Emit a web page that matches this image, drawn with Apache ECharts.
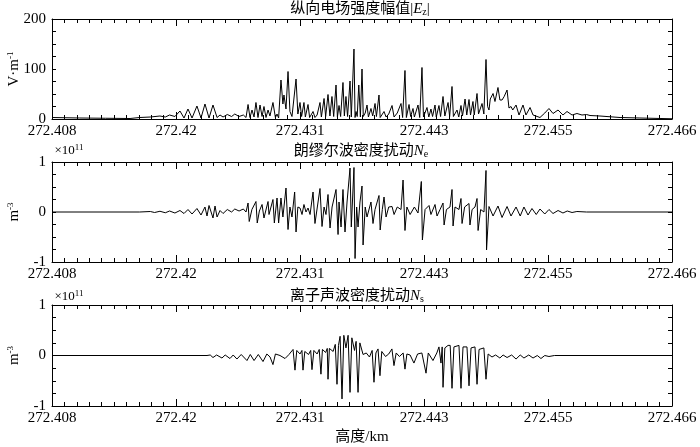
<!DOCTYPE html>
<html>
<head>
<meta charset="utf-8">
<script src="https://cdn.jsdelivr.net/npm/echarts@6/dist/echarts.min.js"></script>
<style>
  html, body { margin: 0; padding: 0; background: #fff; }
  #fieldChart { width: 700px; height: 447px; }
</style>
</head>
<body>
<div id="fieldChart"></div>
<script>
// heights are metres above 272.408 km, labels shown in km
const altitudeTicks = ['272.408', '272.42', '272.431', '272.443', '272.455', '272.466']
const tickStep = 11.6
const heightSpan = 58

// |Ez|, V/m
const ezPoints = [
  [0, 3], [2.6, 2], [5, 1.5], [7.3, 1], [8.2, 3], [9.2, 4], [10.1, 6], [10.6, 4], [11.0, 8], [11.5, 5],
  [11.97, 16], [12.35, 2], [12.72, 20], [13.1, 2], [13.56, 26], [13.94, 2], [14.31, 30], [14.69, 2],
  [15.06, 28], [15.44, 3], [15.72, 8], [16.0, 4], [16.4, 9], [16.8, 5], [17.1, 10], [17.5, 5], [17.9, 8],
  [18.15, 3], [18.34, 29], [18.52, 3], [18.71, 18], [18.9, 4], [19.08, 33], [19.27, 3], [19.46, 28],
  [19.65, 5], [19.83, 25], [20.02, 3], [20.21, 18], [20.39, 6], [20.67, 33], [20.9, 3], [21.05, 10],
  [21.2, 2], [21.42, 78], [21.6, 30], [21.7, 48], [21.89, 20], [22.08, 95], [22.26, 15], [22.45, 5],
  [22.83, 80], [23.0, 10], [23.2, 33], [23.35, 5], [23.57, 33], [23.7, 4], [23.95, 29], [24.1, 3],
  [24.42, 15], [24.6, 3], [24.8, 8], [25.07, 33], [25.2, 4], [25.45, 41], [25.6, 5], [25.82, 49],
  [26.0, 6], [26.19, 45], [26.35, 5], [26.57, 68], [26.7, 4], [26.85, 27], [27.0, 5], [27.22, 73],
  [27.35, 6], [27.5, 45], [27.65, 5], [27.88, 76], [28.0, 4], [28.25, 140], [28.35, 3], [28.44, 15],
  [28.55, 5], [28.7, 68], [28.85, 4], [29.0, 100], [29.12, 5], [29.3, 12], [29.47, 28], [29.6, 4],
  [29.84, 21], [30.0, 6], [30.22, 31], [30.35, 5], [30.59, 48], [30.7, 3], [31.06, 15], [31.25, 4],
  [31.5, 10], [31.81, 27], [32.0, 4], [32.3, 12], [32.65, 31], [32.8, 3], [33.02, 97], [33.15, 3],
  [33.4, 29], [33.55, 5], [33.77, 21], [33.9, 4], [34.24, 28], [34.4, 3], [34.61, 103], [34.75, 4],
  [35.08, 23], [35.25, 4], [35.45, 20], [35.6, 5], [35.83, 28], [35.95, 4], [36.2, 27], [36.35, 5],
  [36.58, 45], [36.75, 6], [37.05, 33], [37.2, 5], [37.42, 65], [37.55, 5], [37.89, 18], [38.05, 4],
  [38.26, 27], [38.4, 6], [38.64, 40], [38.8, 8], [39.01, 39], [39.15, 8], [39.38, 35], [39.5, 8],
  [39.76, 51], [39.9, 10], [40.23, 31], [40.4, 10], [40.6, 119], [40.75, 25], [40.88, 18], [41.0, 40],
  [41.26, 51], [41.44, 35], [41.72, 63], [41.9, 38], [42.1, 38], [42.3, 45], [42.57, 58], [42.75, 22],
  [42.94, 25], [43.1, 18], [43.41, 28], [43.69, 8], [44.06, 28], [44.34, 8], [44.72, 23], [45.0, 8],
  [45.65, 3], [46.1, 12], [46.49, 21], [46.87, 11], [47.34, 18], [47.8, 8], [48.18, 15], [48.65, 8],
  [49.11, 11], [49.58, 8], [50.0, 9], [50.33, 7], [51.26, 6], [53.14, 3], [55.0, 2], [58, 0.5]
]

// Ne, x1e11 m^-3
const nePoints = [
  [0, 0], [8.2, 0], [9.2, 0.01], [9.6, -0.01], [10.1, 0.015], [10.6, -0.015], [11.0, 0.02], [11.5, -0.02],
  [11.97, 0.03], [12.35, -0.03], [12.72, 0.05], [13.1, -0.04], [13.56, 0.07], [13.94, -0.06], [14.31, 0.1],
  [14.5, -0.08], [14.69, 0.13], [15.06, -0.12], [15.25, 0.12], [15.44, -0.1], [15.72, 0.03], [16.0, -0.03],
  [16.4, 0.05], [16.8, 0.0], [17.1, 0.06], [17.5, 0.02], [17.9, 0.06], [18.15, 0.0], [18.34, 0.18],
  [18.45, -0.19], [18.7, 0.05], [19.08, 0.21], [19.2, -0.22], [19.4, 0.02], [19.65, 0.15], [19.83, -0.12],
  [20.21, 0.21], [20.3, -0.05], [20.67, 0.25], [20.8, -0.22], [21.05, 0.28], [21.2, -0.22], [21.42, 0.28],
  [21.6, -0.1], [21.89, 0.48], [22.08, -0.35], [22.26, 0.1], [22.45, -0.1], [22.7, 0.4], [22.83, -0.4],
  [23.0, 0.1], [23.2, 0.08], [23.39, -0.05], [23.57, 0.15], [23.76, 0.0], [23.95, 0.08], [24.14, -0.05],
  [24.42, 0.4], [24.6, -0.23], [25.07, 0.47], [25.26, -0.29], [25.45, 0.1], [25.63, -0.05], [25.82, 0.35],
  [26.01, -0.32], [26.2, 0.1], [26.57, 0.45], [26.76, -0.45], [26.85, 0.2], [27.04, -0.3], [27.22, 0.45],
  [27.41, -0.4], [27.6, 0.2], [27.88, 0.88], [28.0, -0.3], [28.25, 0.89], [28.35, -0.93], [28.5, 0.1],
  [28.63, -0.3], [28.81, 0.2], [29.0, 0.52], [29.1, -0.66], [29.3, 0.1], [29.47, -0.1], [29.84, 0.2],
  [30.03, -0.23], [30.22, 0.05], [30.59, 0.33], [30.7, -0.36], [30.9, 0.05], [31.06, 0.3], [31.25, -0.1],
  [31.5, 0.1], [31.81, 0.11], [32.0, -0.05], [32.3, 0.1], [32.65, 0.05], [32.84, 0.64], [33.02, -0.37],
  [33.2, 0.1], [33.5, -0.05], [33.9, 0.1], [34.24, -0.02], [34.55, 0.61], [34.65, -0.56], [34.9, 0.05],
  [35.27, 0.13], [35.45, -0.05], [35.83, 0.15], [36.02, -0.08], [36.3, 0.05], [36.58, 0.18], [36.68, -0.26],
  [36.9, 0.05], [37.23, 0.1], [37.42, 0.45], [37.52, -0.28], [37.7, 0.1], [38.07, 0.05], [38.26, 0.27],
  [38.36, -0.23], [38.6, 0.1], [39.01, 0.17], [39.1, -0.26], [39.3, 0.05], [39.57, 0.1], [39.76, 0.27],
  [39.86, -0.37], [40.1, 0.05], [40.41, 0.0], [40.6, 0.83], [40.65, -0.76], [40.88, 0.11], [41.26, -0.08],
  [41.72, 0.12], [42.1, -0.11], [42.57, 0.11], [42.94, -0.08], [43.41, 0.1], [43.8, -0.08], [44.15, 0.1],
  [44.53, -0.06], [44.9, 0.07], [45.3, -0.05], [45.65, 0.06], [46.1, -0.04], [46.49, 0.05], [46.87, -0.03],
  [47.34, 0.03], [47.8, -0.02], [48.2, 0.02], [48.65, -0.01], [49.1, 0.01], [50, 0], [58, 0]
]

// Ns, x1e11 m^-3
const nsPoints = [
  [0, 0], [14.5, 0], [14.8, 0.01], [15.06, -0.04], [15.4, 0.01], [15.9, -0.05], [16.2, 0.01], [16.65, -0.06],
  [16.95, 0.01], [17.3, -0.07], [17.7, 0.02], [18.24, -0.1], [18.55, 0.02], [18.9, -0.1], [19.3, 0.02],
  [19.74, -0.12], [20.1, 0.03], [20.4, -0.03], [20.67, -0.18], [20.9, 0.03], [21.33, 0.0], [21.8, -0.06],
  [22.17, 0.02], [22.55, 0.12], [22.73, -0.29], [22.9, 0.1], [23.2, 0.03], [23.38, 0.1], [23.48, -0.29],
  [23.65, 0.08], [24.0, 0.02], [24.2, 0.1], [24.32, -0.28], [24.5, 0.1], [24.8, 0.03], [25.0, 0.12],
  [25.16, -0.37], [25.3, 0.12], [25.6, 0.06], [25.75, 0.14], [25.82, -0.47], [25.95, 0.14], [26.3, 0.08],
  [26.5, 0.22], [26.66, -0.57], [26.8, 0.2], [26.95, 0.38], [27.13, -0.86], [27.3, 0.4], [27.5, 0.15],
  [27.7, 0.4], [27.88, -0.73], [28.05, 0.35], [28.3, 0.1], [28.45, 0.28], [28.63, -0.73], [28.8, 0.25],
  [29.1, 0.02], [29.4, 0.05], [29.7, -0.03], [29.95, 0.1], [30.12, -0.53], [30.3, 0.05], [30.5, 0.13],
  [30.68, -0.4], [30.85, 0.08], [31.2, -0.02], [31.5, 0.03], [31.8, 0.13], [31.99, -0.2], [32.2, 0.05],
  [32.5, -0.02], [32.85, 0.05], [33.02, -0.27], [33.2, 0.03], [33.5, 0.01], [33.86, -0.15], [34.2, 0.03],
  [34.6, 0.05], [34.99, -0.35], [35.2, 0.05], [35.64, -0.1], [36.0, 0.05], [36.2, 0.17], [36.39, -0.15],
  [36.5, 0.17], [36.58, -0.63], [36.75, 0.15], [37.05, 0.2], [37.25, 0.2], [37.42, -0.65], [37.6, 0.17],
  [38.07, 0.2], [38.26, -0.65], [38.45, 0.17], [38.82, 0.17], [39.01, -0.6], [39.2, 0.15], [39.57, 0.17],
  [39.76, -0.57], [39.95, 0.12], [40.4, 0.15], [40.6, -0.47], [40.8, 0.03], [41.16, -0.03], [41.5, 0.01],
  [41.9, -0.05], [42.2, 0.01], [42.57, -0.04], [43.0, 0.01], [43.41, -0.07], [43.8, 0.01], [44.15, -0.05],
  [44.6, 0.01], [45.0, -0.05], [45.4, 0.0], [45.74, -0.06], [46.1, 0.0], [46.49, -0.02], [47, 0], [58, 0]
]

const serif = "'Liberation Serif', 'Times New Roman', 'Noto Sans CJK SC', serif"
const grids = [
  { left: 52, right: 28, top: 19, height: 100, outerBoundsMode: 'none', containLabel: false },
  { left: 52, right: 28, top: 162, height: 100, outerBoundsMode: 'none', containLabel: false },
  { left: 52, right: 28, top: 305, height: 101, outerBoundsMode: 'none', containLabel: false }
]

function xAxisFor(g, top) {
  return {
    type: 'value',
    gridIndex: g,
    position: top ? 'top' : 'bottom',
    min: 0,
    max: heightSpan,
    interval: tickStep,
    axisLine: { show: true, onZero: false, lineStyle: { color: '#000', width: 1 } },
    axisTick: { show: true, inside: true, length: 7, lineStyle: { color: '#000' } },
    minorTick: { show: true, splitNumber: 10, length: 4, lineStyle: { color: '#000' } },
    splitLine: { show: false },
    axisLabel: {
      show: !top,
      margin: 5,
      color: '#000',
      fontFamily: serif,
      fontSize: 15,
      formatter: v => altitudeTicks[Math.round(v / tickStep)]
    },
    name: !top && g === 2 ? '高度/km' : '',
    nameLocation: 'middle',
    nameGap: 24,
    nameMoveOverlap: false,
    nameTextStyle: { color: '#000', fontFamily: serif, fontSize: 15 }
  }
}

function yAxisFor(g, right, min, max, interval, name) {
  return {
    type: 'value',
    gridIndex: g,
    position: right ? 'right' : 'left',
    min: min,
    max: max,
    interval: interval,
    axisLine: { show: true, onZero: false, lineStyle: { color: '#000', width: 1 } },
    axisTick: { show: true, inside: true, length: 4, lineStyle: { color: '#000' } },
    minorTick: { show: true, splitNumber: 4, length: 4, lineStyle: { color: '#000' } },
    splitLine: { show: false },
    axisLabel: { show: !right, margin: 6, color: '#000', fontFamily: serif, fontSize: 15 },
    name: right ? '' : name,
    nameLocation: 'middle',
    nameRotate: 90,
    nameGap: 30,
    nameMoveOverlap: false,
    nameTextStyle: {
      color: '#000',
      fontFamily: serif,
      fontSize: 15,
      rich: {
        sup: { fontSize: 9, fontFamily: serif, color: '#000', verticalAlign: 'top', lineHeight: 16 }
      }
    }
  }
}

function lineSeries(g, pts) {
  return {
    type: 'line',
    xAxisIndex: g * 2,
    yAxisIndex: g * 2,
    data: pts,
    showSymbol: false,
    symbol: 'none',
    lineStyle: { color: '#000', width: 1 },
    clip: true
  }
}

function label(x, y, text, size) {
  return {
    type: 'text',
    x: x,
    y: y,
    style: {
      text: text,
      fill: '#000',
      font: size + 'px ' + serif,
      align: 'center',
      verticalAlign: 'middle',
      rich: {
        i: { fontStyle: 'italic', fontSize: size, fontFamily: serif, fill: '#000' },
        sub: { fontSize: 10, fontFamily: serif, fill: '#000', verticalAlign: 'bottom', padding: [6, 0, 0, 0] },
        sup: { fontSize: 9, fontFamily: serif, fill: '#000', verticalAlign: 'top', padding: [0, 0, 6, 0] }
      }
    }
  }
}

const chart = echarts.init(document.getElementById('fieldChart'))
chart.setOption({
  animation: false,
  backgroundColor: '#fff',
  grid: grids,
  xAxis: [
    xAxisFor(0, false), xAxisFor(0, true),
    xAxisFor(1, false), xAxisFor(1, true),
    xAxisFor(2, false), xAxisFor(2, true)
  ],
  yAxis: [
    yAxisFor(0, false, 0, 200, 100, 'V·m{sup|-1}'), yAxisFor(0, true, 0, 200, 100),
    yAxisFor(1, false, -1, 1, 1, 'm{sup|-3}'), yAxisFor(1, true, -1, 1, 1),
    yAxisFor(2, false, -1, 1, 1, 'm{sup|-3}'), yAxisFor(2, true, -1, 1, 1)
  ],
  series: [
    lineSeries(0, ezPoints),
    lineSeries(1, nePoints),
    lineSeries(2, nsPoints)
  ],
  graphic: [
    label(360, 9, '纵向电场强度幅值|{i|E}{sub|z}|', 15),
    label(361, 151, '朗缪尔波密度扰动{i|N}{sub|e}', 15),
    label(357, 296, '离子声波密度扰动{i|N}{sub|s}', 15),
    label(69, 151, '×10{sup|11}', 13),
    label(69, 297, '×10{sup|11}', 13)
  ]
})
</script>
</body>
</html>
